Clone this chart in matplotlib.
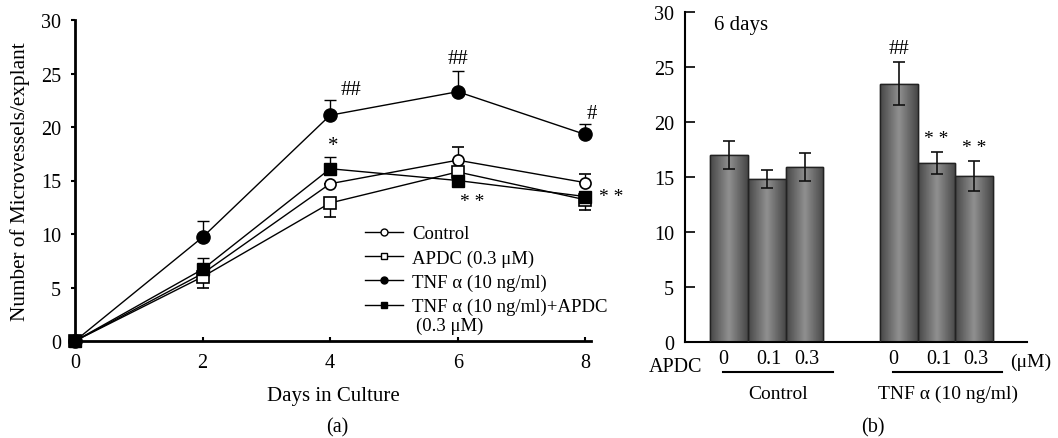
import numpy as np
import matplotlib
matplotlib.use('Agg')
import matplotlib.pyplot as plt
from matplotlib.lines import Line2D
from matplotlib.transforms import blended_transform_factory

plt.rcParams['font.family'] = ['Liberation Serif', 'DejaVu Serif']
plt.rcParams['font.size'] = 14

# ---- panel (a) data: microvessels over days ----
days = [0, 2, 4, 6, 8]
control = [0, 6.3, 14.7, 16.9, 14.8]
apdc = [0, 6.0, 12.9, 15.8, 13.2]
tnf = [0, 9.7, 21.1, 23.3, 19.3]
tnf_apdc = [0, 6.7, 16.1, 15.0, 13.5]

# visible error bars (lower, upper)
control_err = [[0, 0, 0, 0, 0], [0, 0, 0, 1.2, 0.8]]
apdc_err = [[0, 1.0, 1.3, 0, 1.0], [0, 0, 0, 0, 0]]
tnf_err = [[0, 0, 0, 0, 0], [0, 1.5, 1.4, 1.9, 1.0]]
tnf_apdc_err = [[0, 0, 0, 0, 0], [0, 1.1, 1.1, 0, 0]]

# ---- panel (b) data: 6 days ----
doses = ['0', '0.1', '0.3', '0', '0.1', '0.3']
bar_pos = [0, 1, 2, 4.5, 5.5, 6.5]
bar_vals = [17.0, 14.8, 15.9, 23.5, 16.3, 15.1]
bar_err = [1.25, 0.8, 1.25, 1.95, 1.0, 1.4]
groups = ['Control', 'TNF \u03b1 (10 ng/ml)']

fig = plt.figure(figsize=(10.58, 4.39), dpi=100)

# ================= (a) =================
ax = fig.add_axes([75 / 1058, 1 - 342 / 439, 516 / 1058, 321 / 439])
lw = 1.0
ax.errorbar(days, control, yerr=control_err, color='black', lw=lw, marker='o',
            mfc='white', mec='black', ms=8, mew=1.2, capsize=4, elinewidth=1,
            clip_on=False, zorder=3)
ax.errorbar(days, apdc, yerr=apdc_err, color='black', lw=lw, marker='s',
            mfc='white', mec='black', ms=8, mew=1.2, capsize=4, elinewidth=1,
            clip_on=False, zorder=3)
ax.errorbar(days, tnf, yerr=tnf_err, color='black', lw=lw, marker='o',
            mfc='black', mec='black', ms=9.5, capsize=4, elinewidth=1,
            clip_on=False, zorder=4)
ax.errorbar(days, tnf_apdc, yerr=tnf_apdc_err, color='black', lw=lw, marker='s',
            mfc='black', mec='black', ms=8.5, capsize=4, elinewidth=1,
            clip_on=False, zorder=4)

ax.set_xlim(0, 8.09)
ax.set_ylim(0, 30)
ax.set_xticks(days)
ax.set_yticks([0, 5, 10, 15, 20, 25, 30])
ax.spines['top'].set_visible(False)
ax.spines['right'].set_visible(False)
ax.spines['left'].set_linewidth(2)
ax.spines['bottom'].set_linewidth(2)
ax.tick_params(axis='x', direction='in', length=3, width=1.5, pad=9, labelsize=14.5)
ax.tick_params(axis='y', direction='out', length=3, width=1.5, pad=7, labelsize=14.5)
ax.set_xlabel('Days in Culture', fontsize=15, labelpad=10)
ax.set_ylabel('Number of Microvessels/explant', fontsize=15.3, labelpad=8)

# significance marks
ax.text(4.33, 22.6, '##', ha='center', va='bottom', fontsize=15)
ax.text(4.05, 17.4, '*', ha='center', va='bottom', fontsize=15)
ax.text(6.0, 25.5, '##', ha='center', va='bottom', fontsize=15)
ax.text(6.22, 13.8, '* *', ha='center', va='top', fontsize=14)
ax.text(8.1, 20.4, '#', ha='center', va='bottom', fontsize=15)
ax.text(8.22, 13.5, '* *', ha='left', va='center', fontsize=14)

# legend
handles = [
    Line2D([], [], color='black', lw=1, marker='o', mfc='white', mec='black', ms=5),
    Line2D([], [], color='black', lw=1, marker='s', mfc='white', mec='black', ms=5),
    Line2D([], [], color='black', lw=1, marker='o', mfc='black', ms=5),
    Line2D([], [], color='black', lw=1, marker='s', mfc='black', ms=5),
]
labels = ['Control', 'APDC (0.3 \u03bcM)', 'TNF \u03b1 (10 ng/ml)',
          'TNF \u03b1 (10 ng/ml)+APDC']
leg = ax.legend(handles, labels, loc='upper left',
                bbox_to_anchor=((365 - 75) / 516, (342 - 226) / 321),
                frameon=False, fontsize=13.5, handlelength=2.0,
                handletextpad=0.5, labelspacing=0.38, borderpad=0, borderaxespad=0)
fig.canvas.draw()
bb = leg.get_texts()[-1].get_window_extent().transformed(ax.transAxes.inverted())
ax.text(bb.x0 + 0.008, bb.y0 - 0.005, '(0.3 \u03bcM)', ha='left', va='top',
        fontsize=13.5, transform=ax.transAxes)

fig.text(337 / 1058, 1 - 428 / 439, '(a)', ha='center', va='center', fontsize=14.5)

# ================= (b) =================
bx = fig.add_axes([685 / 1058, 1 - 343 / 439, 342 / 1058, 330 / 439])
bars = bx.bar(bar_pos, bar_vals, width=1.0, color='#6a6a6a', edgecolor='#222222',
              linewidth=1.0, zorder=2)
# cylinder-like shading inside each bar
grad = np.concatenate([np.linspace(0.28, 0.56, 30), np.linspace(0.56, 0.28, 30)])
grad = np.tile(grad, (2, 1))
for b in bars:
    x0, w, h = b.get_x(), b.get_width(), b.get_height()
    im = bx.imshow(grad, cmap='gray', vmin=0, vmax=1, aspect='auto',
                   extent=[x0, x0 + w, 0, h], zorder=2.5, interpolation='bilinear')
    im.set_clip_path(b)
    bx.bar(x0 + w / 2, h, width=w, fill=False, edgecolor='#222222',
           linewidth=1.0, zorder=3)
bx.errorbar(bar_pos, bar_vals, yerr=bar_err, fmt='none', ecolor='#111111',
            elinewidth=1.2, capsize=4, capthick=1.2, zorder=4)

bx.set_xlim(-1.17, 7.9)
bx.set_ylim(0, 30)
bx.set_yticks([0, 5, 10, 15, 20, 25, 30])
bx.set_xticks([])
bx.spines['top'].set_visible(False)
bx.spines['right'].set_visible(False)
bx.spines['left'].set_linewidth(1.5)
bx.spines['bottom'].set_linewidth(1.5)
bx.tick_params(axis='y', direction='in', length=7, width=1.2, pad=8, labelsize=14.5)

bx.text(0.085, 0.99, '6 days', transform=bx.transAxes, ha='left', va='top', fontsize=15)
for i, mark in [(3, '##'), (4, '* *'), (5, '* *')]:
    bx.text(bar_pos[i], bar_vals[i] + bar_err[i] + 0.4, mark, ha='center',
            va='bottom', fontsize=15 if mark == '##' else 14)

tr = blended_transform_factory(bx.transData, bx.transAxes)
for p, d in zip(bar_pos, doses):
    bx.text(p - 0.15 if d == '0' else p + 0.05, -0.05, d, transform=tr,
            ha='center', va='center', fontsize=14.5)
bx.text(-1.17 - 0.25, -0.075, 'APDC', transform=tr, ha='center', va='center',
        fontsize=14.5)
bx.text(7.45, -0.06, '(\u03bcM)', transform=tr, ha='left', va='center', fontsize=14)
for k, g in enumerate(groups):
    lo, hi = bar_pos[3 * k], bar_pos[3 * k + 2]
    bx.plot([lo - 0.15, hi + 0.75], [-0.091, -0.091], transform=tr, color='black',
            lw=1.5, clip_on=False)
    bx.text((lo + hi) / 2 + 0.3, -0.155, g, transform=tr, ha='center', va='center',
            fontsize=14)

fig.text(873 / 1058, 1 - 428 / 439, '(b)', ha='center', va='center', fontsize=14.5)

fig.savefig('out.png', dpi=100)
